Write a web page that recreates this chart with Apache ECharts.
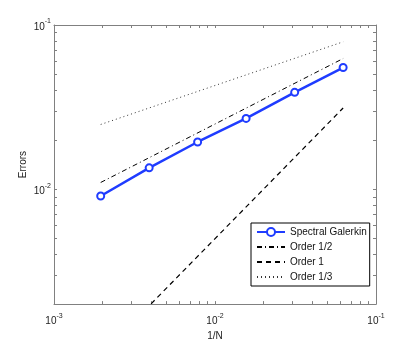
<!DOCTYPE html>
<html>
<head>
<meta charset="utf-8">
<script src="https://cdn.jsdelivr.net/npm/echarts@6/dist/echarts.min.js"></script>
<style>
    html, body { margin: 0; padding: 0; background: #fff; }
    #Root { width: 415px; height: 346px; }
</style>
</head>
<body>
<div id="Root"></div>
<script>
// 1/N values and errors
const hValues = [0.00195, 0.0039, 0.0078, 0.0156, 0.03125, 0.0625]
const galerkinErrors = [0.0091, 0.0135, 0.0194, 0.0270, 0.0389, 0.0551]

// reference slopes (end points)
const refX = [0.00195, 0.0625]
const orderHalf = [0.011, 0.0625]
const orderOne = [0.000977, 0.03125]
const orderThird = [0.0248, 0.0790]

// tick positions / labels
const xTicks = [0.001, 0.002, 0.003, 0.004, 0.005, 0.006, 0.007, 0.008, 0.009,
    0.01, 0.02, 0.03, 0.04, 0.05, 0.06, 0.07, 0.08, 0.09, 0.1]
const yTicks = [0.002, 0.003, 0.004, 0.005, 0.006, 0.007, 0.008, 0.009,
    0.01, 0.02, 0.03, 0.04, 0.05, 0.06, 0.07, 0.08, 0.09, 0.1]
const xLabels = [0.001, 0.01, 0.1]
const yLabels = [0.01, 0.1]

const FONT = 'Liberation Sans'
const AXIS_COLOR = '#808080'
const BLUE = '#1f3cff'

function pairs(xs, ys) {
    return xs.map((x, i) => [x, ys[i]])
}

function powLabel(v) {
    return '{b|10}{s|' + Math.round(Math.log10(v)) + '}'
}

const labelRich = {
    b: { fontSize: 10, fontFamily: FONT, color: '#222', lineHeight: 14, verticalAlign: 'bottom' },
    s: { fontSize: 7, fontFamily: FONT, color: '#222', lineHeight: 14, verticalAlign: 'top', padding: [0, 0, 5, 0] }
}

function makeAxis(extra) {
    return Object.assign({
        type: 'log',
        logBase: 10,
        axisLine: { show: true, onZero: false, lineStyle: { color: AXIS_COLOR, width: 1 } },
        splitLine: { show: false },
        minorTick: { show: false }
    }, extra)
}

function ticks(values) {
    return { show: true, inside: true, length: 3, customValues: values, lineStyle: { color: AXIS_COLOR } }
}

let chart = echarts.init(document.getElementById('Root'), null, { renderer: 'canvas' })

chart.setOption({
    animation: false,
    backgroundColor: '#fff',
    grid: { left: 54, right: 39, top: 25, bottom: 40 },
    xAxis: [
        makeAxis({
            min: 0.001, max: 0.1, position: 'bottom',
            name: '1/N', nameLocation: 'middle', nameGap: 19,
            nameTextStyle: { fontFamily: FONT, fontSize: 10, color: '#222' },
            axisTick: ticks(xTicks),
            axisLabel: { customValues: xLabels, margin: 8, formatter: powLabel, rich: labelRich }
        }),
        makeAxis({
            min: 0.001, max: 0.1, position: 'top',
            axisTick: ticks(xTicks),
            axisLabel: { show: false }
        })
    ],
    yAxis: [
        makeAxis({
            min: 0.002, max: 0.1, position: 'left',
            name: 'Errors', nameLocation: 'middle', nameGap: 26, nameMoveOverlap: false,
            nameTextStyle: { fontFamily: FONT, fontSize: 10, color: '#222' },
            axisTick: ticks(yTicks),
            axisLabel: { customValues: yLabels, margin: 3, formatter: powLabel, rich: labelRich }
        }),
        makeAxis({
            min: 0.002, max: 0.1, position: 'right',
            axisTick: ticks(yTicks),
            axisLabel: { show: false }
        })
    ],
    legend: {
        orient: 'vertical',
        left: 251,
        top: 223,
        padding: [3, 3, 3, 5],
        itemGap: 3,
        itemWidth: 28,
        itemHeight: 10,
        borderColor: '#000',
        borderWidth: 1,
        borderRadius: 0,
        backgroundColor: '#fff',
        textStyle: { fontFamily: FONT, fontSize: 10, color: '#111', lineHeight: 12 },
        data: [
            { name: 'Spectral Galerkin' },
            { name: 'Order 1/2', itemStyle: { opacity: 0 } },
            { name: 'Order 1', itemStyle: { opacity: 0 } },
            { name: 'Order 1/3', itemStyle: { opacity: 0 } }
        ]
    },
    series: [
        {
            name: 'Order 1/2',
            type: 'line',
            data: pairs(refX, orderHalf),
            symbol: 'none',
            color: '#000',
            lineStyle: { color: '#000', width: 1, type: [5, 3, 1, 3] }
        },
        {
            name: 'Order 1',
            type: 'line',
            data: pairs(refX, orderOne),
            symbol: 'none',
            color: '#000',
            lineStyle: { color: '#000', width: 1.2, type: [5, 4] }
        },
        {
            name: 'Order 1/3',
            type: 'line',
            data: pairs(refX, orderThird),
            symbol: 'none',
            color: '#333',
            lineStyle: { color: '#333', width: 1, type: [1, 3] }
        },
        {
            name: 'Spectral Galerkin',
            type: 'line',
            data: pairs(hValues, galerkinErrors),
            symbol: 'emptyCircle',
            symbolSize: 7,
            color: BLUE,
            lineStyle: { color: BLUE, width: 2.5 },
            itemStyle: { color: BLUE, borderWidth: 2 }
        }
    ]
})
</script>
</body>
</html>
